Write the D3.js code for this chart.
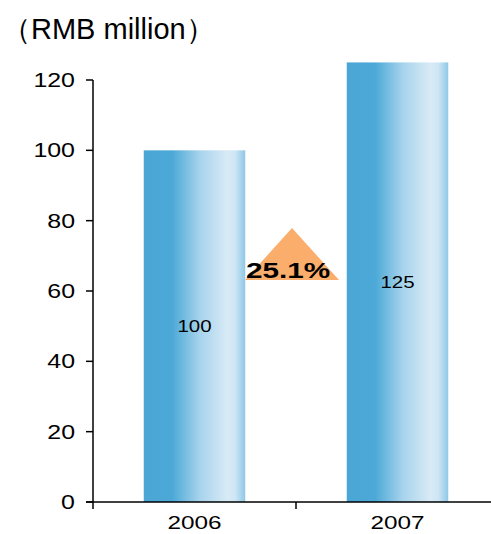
<!DOCTYPE html>
<html><head><meta charset="utf-8">
<script src="https://cdn.jsdelivr.net/npm/d3@7"></script>
<style>body{margin:0;background:#fff}svg{display:block}</style>
</head><body>
<script>
const categories = ["2006", "2007"];
const values = [100, 125];
const yTicks = [0, 20, 40, 60, 80, 100, 120];
const growthLabel = "25.1%";
const unitLabel = "（RMB million）";

const W = 491, H = 534;
const SX = 1.28;
const svg = d3.select("body").append("svg").attr("width", W).attr("height", H)
  .style("font-family", "'Liberation Sans', Arial, sans-serif");

const x0 = 93, x1 = 499, yBase = 502;
const x = d3.scaleBand().domain(categories).range([x0, x1]).paddingInner(0).paddingOuter(0);
const y = d3.scaleLinear().domain([0, 120]).range([yBase, 80]);

const defs = svg.append("defs");
const g = defs.append("linearGradient").attr("id", "barGrad").attr("x1", "0").attr("x2", "1").attr("y1", "0").attr("y2", "0");
[[0, "#4aa6d5"], [0.28, "#4ca9d7"], [0.55, "#a6d3ec"], [0.82, "#d8eaf6"], [0.9, "#cfe6f4"], [1, "#8ec8e6"]]
  .forEach(([o, c]) => g.append("stop").attr("offset", o).attr("stop-color", c));

svg.append("text").attr("x", 2).attr("y", 39).attr("font-size", 29).attr("fill", "#000").text(unitLabel);

const bw = x.bandwidth() * 0.5;
svg.selectAll("rect.bar").data(values).join("rect").attr("class", "bar")
  .attr("x", (d, i) => x(categories[i]) + (x.bandwidth() - bw) / 2)
  .attr("width", bw)
  .attr("y", d => y(d))
  .attr("height", d => yBase - y(d))
  .attr("fill", "url(#barGrad)");

svg.selectAll("text.val").data(values).join("text").attr("class", "val")
  .attr("transform", (d, i) => `translate(${x(categories[i]) + x.bandwidth() / 2},${(y(d) + yBase) / 2 + 6}) scale(${SX},1)`)
  .attr("text-anchor", "middle").attr("font-size", 16).text(d => d);

// y axis
const ya = svg.append("g");
ya.append("line").attr("x1", x0).attr("x2", x0).attr("y1", y(120)).attr("y2", yBase).attr("stroke", "#000").attr("stroke-width", 1.5);
ya.selectAll("line.t").data(yTicks).join("line").attr("class", "t")
  .attr("x1", x0 - 7).attr("x2", x0).attr("y1", d => y(d)).attr("y2", d => y(d)).attr("stroke", "#000").attr("stroke-width", 1.5);
ya.selectAll("text").data(yTicks).join("text")
  .attr("transform", d => `translate(75,${y(d) + 7}) scale(${SX},1)`)
  .attr("text-anchor", "end").attr("font-size", 19.5).text(d => d);

// x axis
const xa = svg.append("g");
xa.append("line").attr("x1", x0 - 7).attr("x2", W).attr("y1", yBase).attr("y2", yBase).attr("stroke", "#000").attr("stroke-width", 1.5);
const xt = [x0, x(categories[1])];
xa.selectAll("line.t").data(xt).join("line").attr("class", "t")
  .attr("x1", d => d).attr("x2", d => d).attr("y1", yBase).attr("y2", yBase + 7).attr("stroke", "#000").attr("stroke-width", 1.5);
xa.selectAll("text").data(categories).join("text")
  .attr("transform", d => `translate(${x(d) + x.bandwidth() / 2},529) scale(${SX},1)`)
  .attr("text-anchor", "middle").attr("font-size", 19).text(d => d);

// growth triangle
const cx = x(categories[1]) - 4;
svg.append("path").attr("d", `M${cx},228 L${cx + 47},280 L${cx - 47},280 Z`).attr("fill", "#fbad6c");
svg.append("text").attr("transform", `translate(${cx - 4},278) scale(1.35,1)`).attr("text-anchor", "middle").attr("font-size", 22)
  .attr("font-weight", "bold").text(growthLabel);
</script>
</body></html>
